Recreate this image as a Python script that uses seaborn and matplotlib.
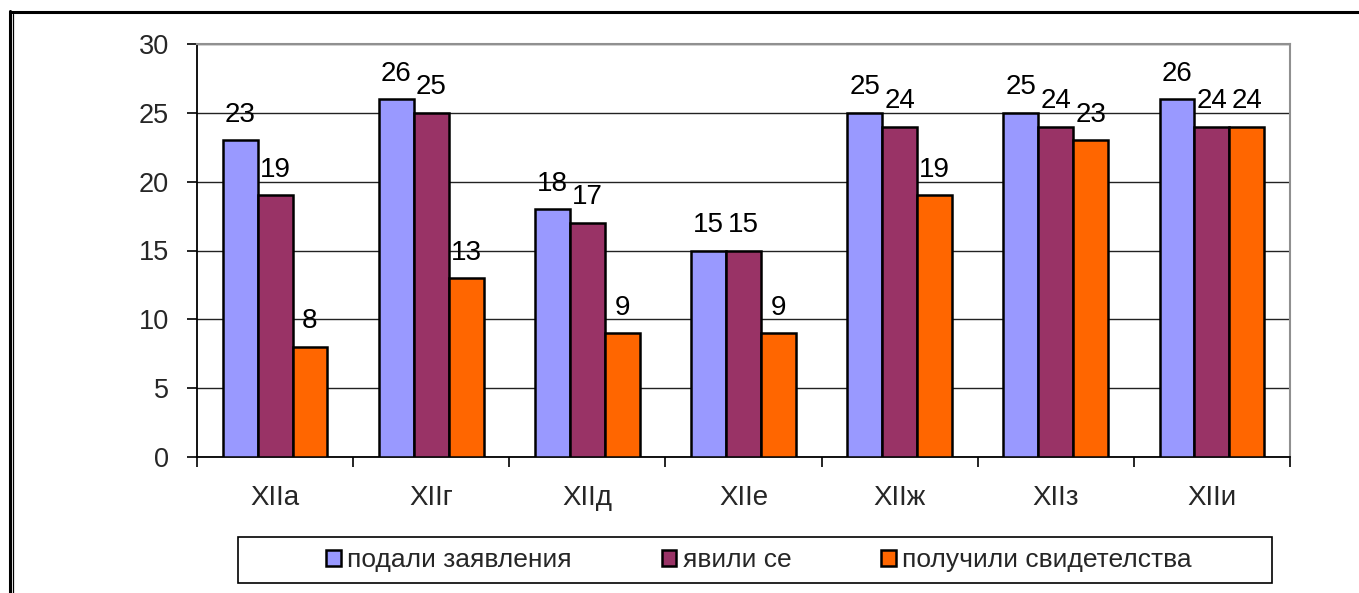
import matplotlib
matplotlib.use("Agg")
import matplotlib.pyplot as plt
import seaborn as sns
import pandas as pd
from matplotlib.patches import Rectangle, Patch
from matplotlib.lines import Line2D

categories = ["XIIa", "XIIг", "XIIд", "XIIе", "XIIж", "XIIз", "XIIи"]
series_names = ["подали заявления", "явили се", "получили свидетелства"]
applied = [23, 26, 18, 15, 25, 25, 26]
attended = [19, 25, 17, 15, 24, 24, 24]
certified = [8, 13, 9, 9, 19, 23, 24]
colors = ["#9999FF", "#993366", "#FF6600"]

rows = []
for name, vals in zip(series_names, [applied, attended, certified]):
    for c, v in zip(categories, vals):
        rows.append({"class": c, "series": name, "value": v})
df = pd.DataFrame(rows)

sns.set_theme(style="white")
plt.rcParams["font.family"] = ["Liberation Sans", "DejaVu Sans"]

fig = plt.figure(figsize=(13.59, 5.93), dpi=100)
ax = fig.add_axes([197/1359, 1-457/593, (1290-197)/1359, (457-44)/593])

sns.barplot(data=df, x="class", y="value", hue="series", order=categories,
            hue_order=series_names, palette=colors, width=0.67,
            edgecolor="black", linewidth=1.8, saturation=1, ax=ax, legend=False, zorder=3)

for cont in ax.containers:
    ax.bar_label(cont, padding=9, fontsize=20, color="black")

ax.set_xlim(-0.5, 6.5)
ax.set_ylim(0, 30)
ax.set_yticks(range(0, 31, 5))
ax.yaxis.grid(True, color="#222222", linewidth=1.0, zorder=0)
ax.set_axisbelow(True)
ax.set_xlabel("")
ax.set_ylabel("")

ax.set_xticks([i - 0.5 for i in range(8)], minor=True)
ax.tick_params(axis="x", which="major", length=0, pad=20, labelsize=20)
ax.tick_params(axis="x", which="minor", length=7, width=1.2, color="black", direction="out", bottom=True)
ax.tick_params(axis="y", which="major", length=7, width=1.2, color="black", direction="out", left=True, pad=13, labelsize=19.5)

for s in ["left", "bottom"]:
    ax.spines[s].set_color("black")
    ax.spines[s].set_linewidth(1.3)
for s in ["top", "right"]:
    ax.spines[s].set_color("#909090")
    ax.spines[s].set_linewidth(1.5)

# legend
handles = [Patch(facecolor=c, edgecolor="black", linewidth=1.8) for c in colors]
fig.legend(handles, series_names, loc="center", bbox_to_anchor=(759/1359, 1-560/593),
           ncol=3, frameon=False, fontsize=19, handlelength=0.55, handleheight=0.55,
           handletextpad=0.25, columnspacing=3.4)
fig.add_artist(Rectangle((238/1359, 1-583/593), (1272-238)/1359, (583-537)/593,
                         transform=fig.transFigure, fill=False, edgecolor="black", linewidth=1.2))

# outer frame
fig.add_artist(Line2D([9.5/1359, 9.5/1359], [0, 1-11/593], transform=fig.transFigure, color="black", linewidth=2.2))
fig.add_artist(Line2D([12.5/1359, 12.5/1359], [0, 1-14/593], transform=fig.transFigure, color="black", linewidth=0.9))
fig.add_artist(Line2D([9.5/1359, 1], [1-11.5/593, 1-11.5/593], transform=fig.transFigure, color="black", linewidth=2.2))

fig.savefig("out.png", dpi=100)
